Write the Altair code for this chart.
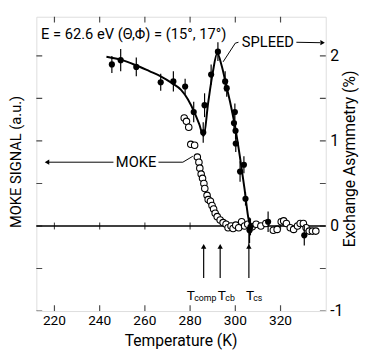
import altair as alt
import pandas as pd

FONT = "Roboto, Liberation Sans, sans-serif"

# ---- data ----
sp_T = [245.4, 249.3, 256.2, 267.0, 272.6, 277.8, 281.6, 285.8, 286.4, 289.3, 292.3,
        295.5, 296.2, 299.4, 299.8, 300.1, 300.2, 302.1, 303.8, 304.5, 306.3, 306.7,
        314.5, 330.5]
sp_A = [1.90, 1.95, 1.87, 1.69, 1.70, 1.64, 1.34, 1.10, 1.42, 1.78, 2.05,
        1.70, 1.62, 1.21, 1.34, 1.12, 0.97, 0.64, 0.72, 0.32, -0.05, -0.01,
        0.05, -0.11]
sp_err = [0.10, 0.13, 0.11, 0.10, 0.12, 0.09, 0.12, 0.12, 0.14, 0.12, 0.11,
          0.12, 0.10, 0.12, 0.10, 0.10, 0.10, 0.12, 0.10, 0.08, 0.15, 0.10,
          0.12, 0.12]

fit_T = [243, 250, 256, 262, 267, 272, 276, 279, 282, 284, 286, 288, 290, 292,
         294, 296, 298, 300, 302, 304, 306, 306.8]
fit_A = [1.99, 1.95, 1.89, 1.82, 1.76, 1.68, 1.60, 1.49, 1.33, 1.20, 1.06, 1.45,
         1.80, 2.03, 1.88, 1.65, 1.42, 1.15, 0.82, 0.45, 0.06, 0.0]

moke_T = [277.4, 278.4, 279.4, 280.3, 282.0, 283.2, 283.9, 284.3, 284.9, 285.5,
          286.1, 286.5, 287.5, 288.0, 289.0, 289.7, 290.4, 291.1, 292.0, 293.3,
          294.6, 295.9, 296.8, 298.1, 299.0, 300.2, 301.5, 302.8, 304.1, 305.5,
          307.5, 309.2, 311.3, 313.5, 316.8, 318.5, 320.3, 321.4, 322.6, 324.3,
          325.8, 327.5, 328.7, 330.1, 331.3, 332.7, 334.1, 335.6]
moke_S = [1.27, 1.23, 1.16, 0.96, 0.95, 0.81, 0.75, 0.68, 0.61, 0.56,
          0.50, 0.44, 0.36, 0.31, 0.29, 0.24, 0.20, 0.15, 0.11, 0.07,
          0.04, 0.02, -0.02, 0.00, -0.03, 0.01, -0.02, 0.05, 0.00, 0.02,
          -0.01, 0.02, 0.00, 0.03, -0.05, -0.04, 0.05, 0.06, 0.03, -0.02,
          -0.04, 0.00, 0.03, 0.03, -0.02, -0.06, -0.06, -0.06]

x_ticks = [220, 240, 260, 280, 300, 320]
y_ticks = [-1, -0.5, 0, 0.5, 1, 1.5, 2]
y_labels = [-1, 0, 1, 2]
X_DOM = [212, 340]
Y_DOM = [-1, 2.46]
x_title = "Temperature (K)"

t_names = ["comp", "cb", "cs"]
t_vals = [286.0, 293.3, 306.0]
t_top = [-0.24, -0.24, -0.05]
t_letter_x = [280.3, 294.0, 306.5]
t_sub_x = [281.8, 295.6, 307.9]

xs = alt.Scale(domain=X_DOM, nice=False, zero=False)
ys = alt.Scale(domain=Y_DOM, nice=False, zero=False)


def X(f="x", **kw):
    return alt.X(f"{f}:Q", scale=xs, axis=None, **kw)


def Y(f="y", **kw):
    return alt.Y(f"{f}:Q", scale=ys, axis=None, **kw)


sp_df = pd.DataFrame({"x": sp_T, "y": sp_A,
                      "lo": [a - e for a, e in zip(sp_A, sp_err)],
                      "hi": [a + e for a, e in zip(sp_A, sp_err)]})
fit_df = pd.DataFrame({"x": fit_T, "y": fit_A})
moke_df = pd.DataFrame({"x": moke_T, "y": moke_S})

# bottom tick labels and title as text on the x scale
xlab = alt.Chart(pd.DataFrame({"x": x_ticks, "y": [Y_DOM[0]] * 6,
                               "t": [str(v) for v in x_ticks]})).mark_text(
    font=FONT, fontSize=14, baseline="top", dy=3, color="black").encode(
    x=X(), y=Y(), text="t:N")
xtitle = alt.Chart(pd.DataFrame({"x": [sum(X_DOM) / 2], "y": [Y_DOM[0]],
                                 "t": [x_title]})).mark_text(
    font=FONT, fontSize=16, baseline="middle", dy=31, color="black").encode(
    x=X(), y=Y(), text="t:N")

axis_left = alt.Chart(pd.DataFrame({"y": [0]})).mark_tick(opacity=0).encode(
    y=alt.Y("y:Q", scale=ys, axis=alt.Axis(
        orient="left", values=y_ticks, ticks=False, labels=False, domain=False,
        grid=False, title="MOKE SIGNAL (a.u.)", titleFont=FONT, titleFontSize=15,
        titleFontWeight="normal", titleColor="black", titleAngle=270,
        titleX=-21, titleY=148, titleBaseline="middle", titleAlign="center")),
)
axis_right = alt.Chart(pd.DataFrame({"y": [0]})).mark_tick(opacity=0).encode(
    y=alt.Y("y:Q", scale=ys, axis=alt.Axis(
        orient="right", values=y_labels, ticks=False, domain=False, grid=False,
        labelExpr="toString(datum.value)", labelFont=FONT, labelFontSize=16,
        labelPadding=4, labelColor="black", labelBaseline="middle",
        title="Exchange Asymmetry (%)", titleFont=FONT, titleFontSize=16,
        titleFontWeight="normal", titleColor="black", titleAngle=270,
        titleX=24, titleY=145, titleBaseline="middle", titleAlign="center")),
)

# inward ticks (centered on the frame, outer half clipped)
xt_df = pd.DataFrame({"x": x_ticks * 2, "y": [Y_DOM[0]] * 6 + [Y_DOM[1]] * 6})
xticks = alt.Chart(xt_df).mark_tick(orient="vertical", size=12, thickness=1.2,
                                    color="black", clip=True).encode(x=X(), y=Y())
yt_df = pd.DataFrame({"y": y_ticks * 2, "x": [X_DOM[0]] * 7 + [X_DOM[1]] * 7})
yticks = alt.Chart(yt_df).mark_tick(orient="horizontal", size=12, thickness=1.2,
                                    color="black", clip=True).encode(x=X(), y=Y())
zt_df = pd.DataFrame({"x": x_ticks, "y": [0] * 6})
zticks = alt.Chart(zt_df).mark_tick(orient="vertical", size=7, thickness=1.2,
                                    color="black").encode(x=X(), y=Y())

zero_line = alt.Chart(pd.DataFrame({"y": [0]})).mark_rule(
    color="black", strokeWidth=1.4).encode(y=Y())

fit_line = alt.Chart(fit_df).mark_line(color="black", strokeWidth=2,
                                       interpolate="monotone").encode(x=X(), y=Y())
err = alt.Chart(sp_df).mark_rule(color="black", strokeWidth=1.2).encode(
    x=X(), y=Y("lo"), y2="hi:Q")
sp_pts = alt.Chart(sp_df).mark_point(filled=True, color="black", size=40,
                                     opacity=1).encode(x=X(), y=Y())
moke_pts = alt.Chart(moke_df).mark_point(filled=True, fill="white", stroke="black",
                                         strokeWidth=1.1, size=44,
                                         opacity=1).encode(x=X(), y=Y())

# leader lines and arrows
lead_df = pd.DataFrame({
    "g": ["mk"] * 3 + ["ma"] * 2 + ["sp"] * 3 + ["sa"] * 2,
    "o": [0, 1, 2, 0, 1, 0, 1, 2, 0, 1],
    "x": [266.0, 276.8, 281.2, 246.1, 217.5, 301.4, 300.0, 294.6, 327.0, 337.5],
    "y": [0.75, 0.75, 0.82, 0.75, 0.75, 2.16, 2.15, 1.93, 2.16, 2.155],
})
leads = alt.Chart(lead_df).mark_line(color="black", strokeWidth=1).encode(
    x=X(), y=Y(), detail="g:N", order="o:Q")
heads_df = pd.DataFrame({"x": [216.7, 338.6], "y": [0.75, 2.155],
                         "s": ["triangle-left", "triangle-right"]})
heads = alt.Chart(heads_df).mark_point(filled=True, color="black", size=28,
                                       opacity=1).encode(
    x=X(), y=Y(), shape=alt.Shape("s:N", scale=None))

tarr_df = pd.DataFrame({"x": t_vals, "lo": [-0.61] * 3, "hi": t_top,
                        "h": [-0.24] * 3})
tarr = alt.Chart(tarr_df).mark_rule(color="black", strokeWidth=1.2).encode(
    x=X(), y=Y("lo"), y2="hi:Q")
theads = alt.Chart(tarr_df).mark_point(filled=True, color="black", size=30,
                                       shape="triangle-up", opacity=1).encode(
    x=X(), y=Y("h"))

# texts
head_txt = alt.Chart(pd.DataFrame({"x": [214.1], "y": [2.2],
                                   "t": ["E = 62.6 eV  (\u0398,\u03a6) = (15\u00b0, 17\u00b0)"]})).mark_text(
    font=FONT, fontSize=15, align="left", baseline="alphabetic", color="black").encode(
    x=X(), y=Y(), text="t:N")
lab_txt = alt.Chart(pd.DataFrame({"x": [256.1, 314.4], "y": [0.69, 2.10],
                                  "t": ["MOKE", "SPLEED"]})).mark_text(
    font=FONT, fontSize=15, align="center", baseline="alphabetic", color="black").encode(
    x=X(), y=Y(), text="t:N")
tT = alt.Chart(pd.DataFrame({"x": t_letter_x, "y": [-0.87] * 3, "t": ["T"] * 3})).mark_text(
    font=FONT, fontSize=14, align="center", baseline="alphabetic", color="black").encode(
    x=X(), y=Y(), text="t:N")
tS = alt.Chart(pd.DataFrame({"x": t_sub_x, "y": [-0.88] * 3, "t": t_names})).mark_text(
    font=FONT, fontSize=9, align="left", baseline="alphabetic", color="black").encode(
    x=X(), y=Y(), text="t:N")

chart = alt.layer(
    axis_left, axis_right, zero_line, xticks, yticks, zticks,
    moke_pts, fit_line, err, sp_pts, leads, heads, tarr, theads,
    head_txt, lab_txt, tT, tS, xlab, xtitle,
).properties(
    width=296, height=301,
    autosize=alt.AutoSizeParams(type="none"),
    padding={"left": 29, "top": 5, "right": 34, "bottom": 41},
).configure_view(stroke="black", strokeWidth=1.5).configure(background="white")

chart.save("out.html", embed_options={"renderer": "svg", "actions": False})
